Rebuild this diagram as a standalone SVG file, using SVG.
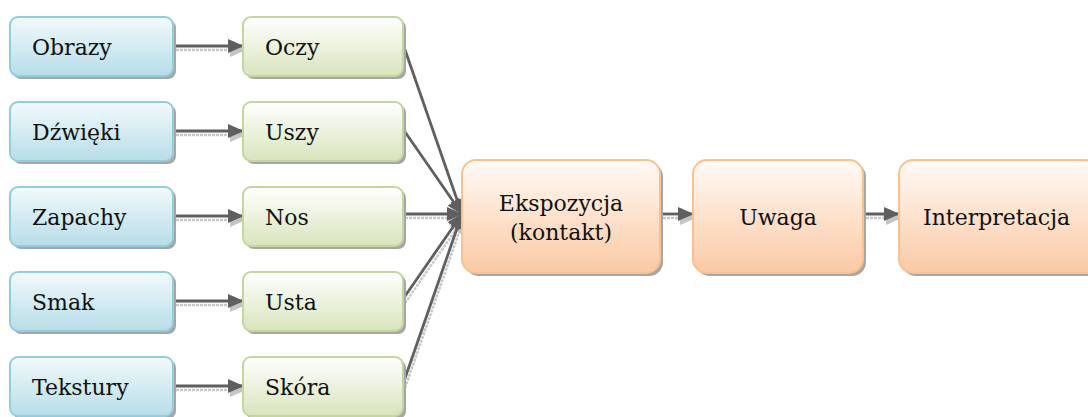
<svg xmlns="http://www.w3.org/2000/svg" width="1088" height="417" viewBox="0 0 1088 417">
  <defs>
    <linearGradient id="gBlue" x1="0" y1="0" x2="0" y2="1">
      <stop offset="0" stop-color="#f2f9fb"/>
      <stop offset="1" stop-color="#b7dde8"/>
    </linearGradient>
    <linearGradient id="gGreen" x1="0" y1="0" x2="0" y2="1">
      <stop offset="0" stop-color="#ffffff"/>
      <stop offset="1" stop-color="#d8e4bc"/>
    </linearGradient>
    <linearGradient id="gOrange" x1="0" y1="0" x2="0" y2="1">
      <stop offset="0" stop-color="#fffaf6"/>
      <stop offset="1" stop-color="#fac9a3"/>
    </linearGradient>
    <marker id="head" markerWidth="16" markerHeight="16" refX="15" refY="8" orient="auto" markerUnits="userSpaceOnUse">
      <path d="M0,1 L16,8 L0,15 Z" fill="#5f5f5f"/>
    </marker>
    <marker id="headShadow" markerWidth="16" markerHeight="16" refX="15" refY="8" orient="auto" markerUnits="userSpaceOnUse">
      <path d="M0,1 L16,8 L0,15 Z" fill="#c4c4c4"/>
    </marker>
  </defs>
  <style>
    .shadow { fill: #a6a6a6; }
    .blue { fill: url(#gBlue); stroke: #92cddc; stroke-width: 2; }
    .green { fill: url(#gGreen); stroke: #c3d69b; stroke-width: 2; }
    .orange { fill: url(#gOrange); stroke: #fac090; stroke-width: 2; }
    .lbl { font-family: "DejaVu Serif", "Liberation Serif", serif; font-size: 22px; fill: #111111; }
    .mid { text-anchor: middle; }
    .conn { stroke: #5f5f5f; stroke-width: 2.8; fill: none; marker-end: url(#head); }
    .connShadow { stroke: #c8c8c8; stroke-width: 2.5; fill: none; stroke-dasharray: 3 1; marker-end: url(#headShadow); }
  </style>

  <!-- connectors -->
  <g id="connectors">
    <g transform="translate(2,4)">
      <line class="connShadow" x1="174" y1="46" x2="243" y2="46"/>
      <line class="connShadow" x1="174" y1="131" x2="243" y2="131"/>
      <line class="connShadow" x1="174" y1="216" x2="243" y2="216"/>
      <line class="connShadow" x1="174" y1="301" x2="243" y2="301"/>
      <line class="connShadow" x1="174" y1="386" x2="243" y2="386"/>
      <line class="connShadow" x1="403" y1="214" x2="462" y2="214"/>
      <line class="connShadow" x1="403" y1="299" x2="462" y2="214"/>
      <line class="connShadow" x1="403" y1="384" x2="462" y2="214"/>
      <line class="connShadow" x1="661" y1="214" x2="693" y2="214"/>
      <line class="connShadow" x1="864" y1="214" x2="899" y2="214"/>
    </g>
    <line class="conn" x1="174" y1="46" x2="243" y2="46"/>
    <line class="conn" x1="174" y1="131" x2="243" y2="131"/>
    <line class="conn" x1="174" y1="216" x2="243" y2="216"/>
    <line class="conn" x1="174" y1="301" x2="243" y2="301"/>
    <line class="conn" x1="174" y1="386" x2="243" y2="386"/>
    <line class="conn" x1="403" y1="44" x2="462" y2="214"/>
    <line class="conn" x1="403" y1="129" x2="462" y2="214"/>
    <line class="conn" x1="403" y1="214" x2="462" y2="214"/>
    <line class="conn" x1="403" y1="299" x2="462" y2="214"/>
    <line class="conn" x1="403" y1="384" x2="462" y2="214"/>
    <line class="conn" x1="661" y1="214" x2="693" y2="214"/>
    <line class="conn" x1="864" y1="214" x2="899" y2="214"/>
  </g>

  <!-- stimuli -->
  <g id="obrazy">
    <rect class="shadow" x="13" y="20" width="163" height="59" rx="8"/>
    <rect class="blue" x="10" y="17" width="163" height="59" rx="8"/>
    <text class="lbl" x="32" y="55">Obrazy</text>
  </g>
  <g id="dzwieki">
    <rect class="shadow" x="13" y="105" width="163" height="59" rx="8"/>
    <rect class="blue" x="10" y="102" width="163" height="59" rx="8"/>
    <text class="lbl" x="32" y="140">Dźwięki</text>
  </g>
  <g id="zapachy">
    <rect class="shadow" x="13" y="190" width="163" height="59" rx="8"/>
    <rect class="blue" x="10" y="187" width="163" height="59" rx="8"/>
    <text class="lbl" x="32" y="225">Zapachy</text>
  </g>
  <g id="smak">
    <rect class="shadow" x="13" y="275" width="163" height="59" rx="8"/>
    <rect class="blue" x="10" y="272" width="163" height="59" rx="8"/>
    <text class="lbl" x="32" y="310">Smak</text>
  </g>
  <g id="tekstury">
    <rect class="shadow" x="13" y="360" width="163" height="59" rx="8"/>
    <rect class="blue" x="10" y="357" width="163" height="59" rx="8"/>
    <text class="lbl" x="32" y="395">Tekstury</text>
  </g>

  <!-- senses -->
  <g id="oczy">
    <rect class="shadow" x="246" y="20" width="160" height="59" rx="8"/>
    <rect class="green" x="243" y="17" width="160" height="59" rx="8"/>
    <text class="lbl" x="265" y="55">Oczy</text>
  </g>
  <g id="uszy">
    <rect class="shadow" x="246" y="105" width="160" height="59" rx="8"/>
    <rect class="green" x="243" y="102" width="160" height="59" rx="8"/>
    <text class="lbl" x="265" y="140">Uszy</text>
  </g>
  <g id="nos">
    <rect class="shadow" x="246" y="190" width="160" height="59" rx="8"/>
    <rect class="green" x="243" y="187" width="160" height="59" rx="8"/>
    <text class="lbl" x="265" y="225">Nos</text>
  </g>
  <g id="usta">
    <rect class="shadow" x="246" y="275" width="160" height="59" rx="8"/>
    <rect class="green" x="243" y="272" width="160" height="59" rx="8"/>
    <text class="lbl" x="265" y="310">Usta</text>
  </g>
  <g id="skora">
    <rect class="shadow" x="246" y="360" width="160" height="59" rx="8"/>
    <rect class="green" x="243" y="357" width="160" height="59" rx="8"/>
    <text class="lbl" x="265" y="395">Skóra</text>
  </g>

  <!-- processing stages -->
  <g id="ekspozycja">
    <rect class="shadow" x="465" y="163" width="198" height="113" rx="14"/>
    <rect class="orange" x="462" y="160" width="198" height="113" rx="14"/>
    <text class="lbl mid" x="561" y="211">Ekspozycja</text>
    <text class="lbl mid" x="561" y="240">(kontakt)</text>
  </g>
  <g id="uwaga">
    <rect class="shadow" x="696" y="163" width="170" height="113" rx="14"/>
    <rect class="orange" x="693" y="160" width="170" height="113" rx="14"/>
    <text class="lbl mid" x="778" y="225">Uwaga</text>
  </g>
  <g id="interpretacja">
    <rect class="shadow" x="902" y="163" width="200" height="113" rx="14"/>
    <rect class="orange" x="899" y="160" width="200" height="113" rx="14"/>
    <text class="lbl" x="923" y="225">Interpretacja</text>
  </g>
</svg>
